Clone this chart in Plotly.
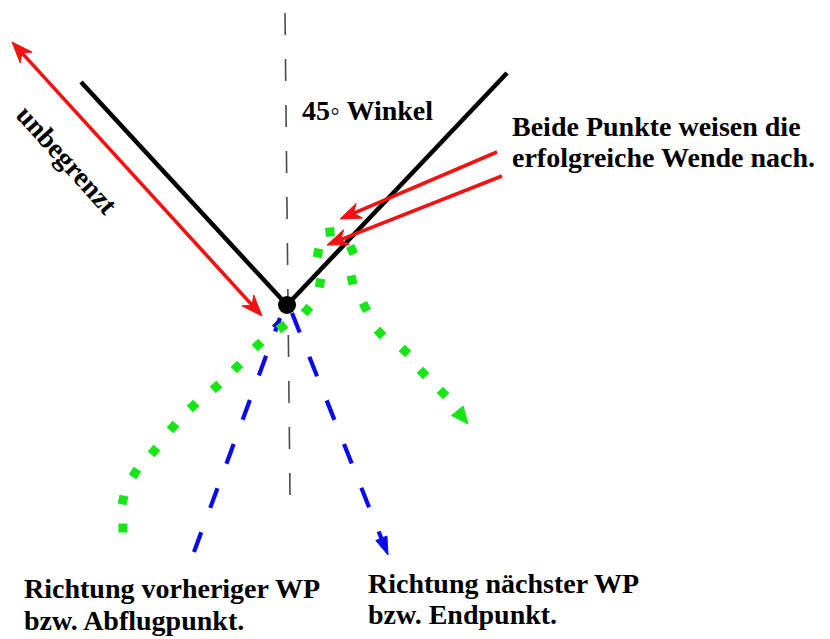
import math
import plotly.graph_objects as go

# ---- diagram geometry (pixel space, y downwards) ----
axis_x = [285, 290]
axis_y = [13, 495]

wing_left_x = [81, 287]
wing_left_y = [82, 305]
wing_right_x = [287, 507]
wing_right_y = [305, 73]
center_pt = (287, 305)

unlimited_arrow = [(12, 42), (262, 316)]          # double-headed red arrow
pointer_tails = [(497, 152), (502, 176)]
pointer_tips = [(340, 219), (327, 245)]

prev_wp_line = [(194, 552), (280, 318)]           # blue, drawn bottom->top
next_wp_line = [(292, 313), (388, 555)]           # blue, arrow at end

flight_x = [123, 123, 135, 154, 173, 193, 216, 237, 258, 282, 307, 320, 318,
            330, 352, 352, 365, 380, 405, 423, 443]
flight_y = [528, 500, 473, 451, 427, 406, 387, 367, 345, 327, 310, 283, 253,
            232, 250, 280, 307, 333, 351, 373, 393]
flight_tip = (468, 424)

labels = [
    ("45◦ Winkel", 300, 110),
    ("Beide Punkte weisen die", 510, 126),
    ("erfolgreiche Wende nach.", 510, 157),
    ("Richtung vorheriger WP", 22, 588),
    ("bzw. Abflugpunkt.", 22, 620),
    ("Richtung nächster WP", 366, 583),
    ("bzw. Endpunkt.", 366, 614),
]
rot_label = ("unbegrenzt", 67, 159, 48)

RED = "#f21212"
BLUE = "#0a0af0"
GREEN = "#16e616"
FONT = "Liberation Serif"
FONT_SIZE = 28
PAGE_OFFSET = 8   # default body margin of the html page


def head(tip, frm, length, width, notch=0.0):
    dx, dy = tip[0] - frm[0], tip[1] - frm[1]
    d = math.hypot(dx, dy)
    ux, uy = dx / d, dy / d
    nx, ny = -uy, ux
    bx, by = tip[0] - ux * length, tip[1] - uy * length
    mx, my = tip[0] - ux * length * (1 - notch), tip[1] - uy * length * (1 - notch)
    xs = [tip[0], bx + nx * width / 2, mx, bx - nx * width / 2, tip[0]]
    ys = [tip[1], by + ny * width / 2, my, by - ny * width / 2, tip[1]]
    return xs, ys


def shaft_end(tip, frm, back):
    dx, dy = tip[0] - frm[0], tip[1] - frm[1]
    d = math.hypot(dx, dy)
    return tip[0] - dx / d * back, tip[1] - dy / d * back


fig = go.Figure()

def line(xs, ys, color, width, dash="solid"):
    fig.add_trace(go.Scatter(x=xs, y=ys, mode="lines",
                             line=dict(color=color, width=width, dash=dash),
                             hoverinfo="skip"))

def poly(xs, ys, color):
    fig.add_trace(go.Scatter(x=xs, y=ys, mode="lines", fill="toself",
                             fillcolor=color, line=dict(color=color, width=1),
                             hoverinfo="skip"))

# vertical dashed axis
line(axis_x, axis_y, "#4a4a4a", 1.6, "22px,24px")

# blue dashed directions
line([p[0] for p in prev_wp_line], [p[1] for p in prev_wp_line], BLUE, 4.2, "21px,26px")
hx, hy = head(prev_wp_line[1], prev_wp_line[0], 10, 9)
poly(hx, hy, BLUE)
end = shaft_end(next_wp_line[1], next_wp_line[0], 14)
line([next_wp_line[0][0], end[0]], [next_wp_line[0][1], end[1]], BLUE, 4.2, "21px,26px")
hx, hy = head(next_wp_line[1], next_wp_line[0], 18, 12)
poly(hx, hy, BLUE)

# green dotted flight path
angles = []
for i in range(len(flight_x)):
    a = max(i - 1, 0)
    b = min(i + 1, len(flight_x) - 1)
    angles.append(math.degrees(math.atan2(flight_y[b] - flight_y[a], flight_x[b] - flight_x[a])))
fig.add_trace(go.Scatter(x=flight_x, y=flight_y, mode="markers",
                         marker=dict(symbol="square", size=9, color=GREEN, angle=angles,
                                     line=dict(width=0)),
                         hoverinfo="skip"))
hx, hy = head(flight_tip, (flight_x[-1], flight_y[-1]), 17, 15)
poly(hx, hy, GREEN)

# black wings + center point
line(wing_left_x, wing_left_y, "black", 4.5)
line(wing_right_x, wing_right_y, "black", 4.5)
fig.add_trace(go.Scatter(x=[center_pt[0]], y=[center_pt[1]], mode="markers",
                         marker=dict(size=18, color="black"), hoverinfo="skip"))

# red arrows
a, b = unlimited_arrow
e1 = shaft_end(a, b, 12)
e2 = shaft_end(b, a, 12)
line([e1[0], e2[0]], [e1[1], e2[1]], RED, 3.6)
for tip, frm in ((a, b), (b, a)):
    hx, hy = head(tip, frm, 21, 16, 0.3)
    poly(hx, hy, RED)
for tail, tip in zip(pointer_tails, pointer_tips):
    e = shaft_end(tip, tail, 12)
    line([tail[0], e[0]], [tail[1], e[1]], RED, 3.6)
    hx, hy = head(tip, tail, 21, 16, 0.3)
    poly(hx, hy, RED)

# text
for txt, x, y in labels:
    fig.add_annotation(x=x, y=y, text=txt, showarrow=False, xanchor="left",
                       yanchor="middle",
                       font=dict(family=FONT, size=FONT_SIZE, color="black", weight="bold"))
txt, x, y, ang = rot_label
fig.add_annotation(x=x, y=y, text=txt, showarrow=False, textangle=ang,
                   font=dict(family=FONT, size=FONT_SIZE, color="black", weight="bold"))

W, H = 830, 639
fig.update_layout(
    width=W - PAGE_OFFSET, height=H - PAGE_OFFSET, margin=dict(l=0, r=0, t=0, b=0),
    paper_bgcolor="white", plot_bgcolor="white", showlegend=False,
    xaxis=dict(range=[PAGE_OFFSET, W], visible=False, fixedrange=True),
    yaxis=dict(range=[H, PAGE_OFFSET], visible=False, fixedrange=True),
)

fig.write_html("out.html")
